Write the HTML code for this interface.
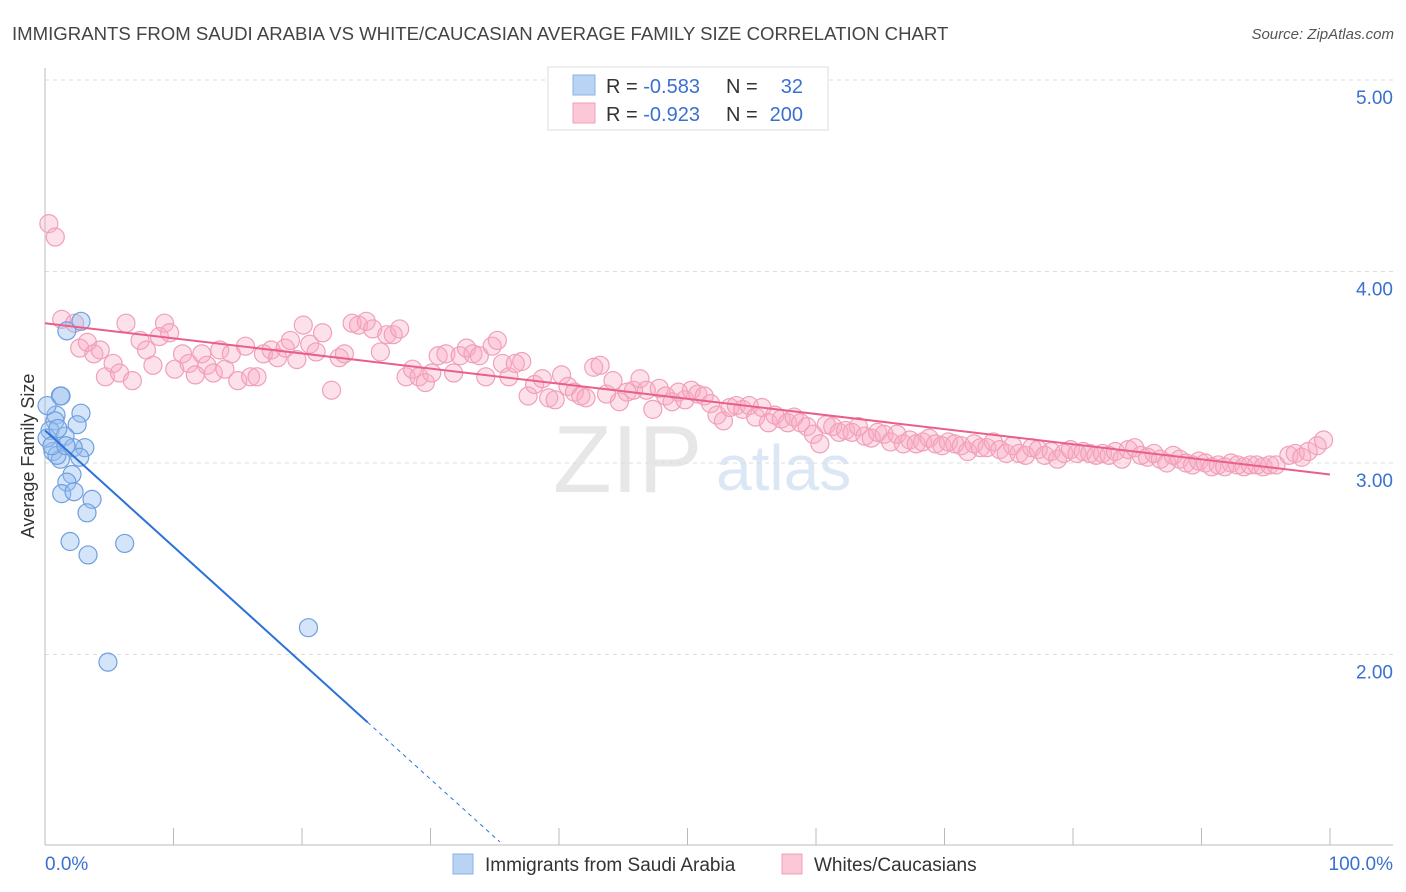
<!DOCTYPE html>
<html><head><meta charset="utf-8"><style>
body{margin:0;background:#fff;font-family:"Liberation Sans",sans-serif;overflow:hidden;}
svg{display:block;}
svg text{font-family:"Liberation Sans",sans-serif;}
</style></head><body>
<svg id="chart" width="1406" height="892" xmlns="http://www.w3.org/2000/svg">
<text x="12" y="40" font-size="18.6" fill="#444">IMMIGRANTS FROM SAUDI ARABIA VS WHITE/CAUCASIAN AVERAGE FAMILY SIZE CORRELATION CHART</text>
<text x="1394" y="39" font-size="15" fill="#555" text-anchor="end" font-style="italic">Source: ZipAtlas.com</text>
<g opacity="0.35">
<text x="553" y="492" font-size="96" fill="#bbb" font-family="Liberation Serif,serif">ZIP</text>
<text x="716" y="490" font-size="64" fill="#9dbbe6">atlas</text>
</g>
<g id="grid"></g>
<g id="axes"></g>
<g id="pts"></g>
<g id="trends"></g>
<g>
<rect x="548" y="67" width="280" height="63" fill="#fff" stroke="#ddd"/>
<rect x="573" y="75" width="22" height="20" fill="#b9d3f5" stroke="#8ab0e6"/>
<rect x="573" y="103" width="22" height="20" fill="#fcc8d8" stroke="#f0a0b8"/>
<text x="606" y="93" font-size="20" fill="#333">R = <tspan fill="#3a70d0">-0.583</tspan></text>
<text x="726" y="93" font-size="20" fill="#333">N =</text><text x="803" y="93" font-size="20" fill="#3a70d0" text-anchor="end">32</text>
<text x="606" y="121" font-size="20" fill="#333">R = <tspan fill="#3a70d0">-0.923</tspan></text>
<text x="726" y="121" font-size="20" fill="#333">N =</text><text x="803" y="121" font-size="20" fill="#3a70d0" text-anchor="end">200</text>
</g>
<g>
<rect x="453" y="854" width="20" height="20" fill="#b9d3f5" stroke="#8ab0e6"/>
<text x="485" y="871" font-size="19" fill="#333">Immigrants from Saudi Arabia</text>
<rect x="782" y="854" width="20" height="20" fill="#fcc8d8" stroke="#f0a0b8"/>
<text x="814" y="871" font-size="19" fill="#333">Whites/Caucasians</text>
</g>
<text transform="translate(34,456) rotate(-90)" font-size="18" fill="#333" text-anchor="middle">Average Family Size</text>
</svg>
<script>
const yTicks=[2,3,4,5];
const yTickLabels=["2.00","3.00","4.00","5.00"];
const xTickLabels=["0.0%","100.0%"];
const blueX=[1.7,2.8,1.2,1.25,0.86,2.8,0.16,0.78,2.5,0.39,1.56,3.1,2.2,0.62,1.2,2.7,0.93,2.1,1.7,1.3,2.26,3.66,3.27,1.95,6.2,3.35,20.5,4.9,0.16,0.54,1.0,1.63];
const blueY=[3.69,3.74,3.35,3.35,3.25,3.26,3.30,3.22,3.20,3.17,3.14,3.08,3.08,3.06,3.02,3.03,3.04,2.94,2.90,2.84,2.85,2.81,2.74,2.59,2.58,2.52,2.14,1.96,3.13,3.09,3.18,3.09];
const pinkX=[0.3,0.8,1.3,2.3,2.7,3.3,3.8,4.3,4.7,5.3,5.8,6.3,6.8,7.4,7.9,8.4,8.9,9.3,9.7,10.1,10.7,11.2,11.7,12.2,12.6,13.1,13.6,14.0,14.5,15.0,15.6,16.0,16.5,17.0,17.6,18.1,18.7,19.1,19.6,20.1,20.6,21.1,21.6,22.3,22.9,23.3,23.9,24.4,25.0,25.5,26.1,26.6,27.1,27.6,28.1,28.6,29.1,29.6,30.1,30.6,31.2,31.8,32.3,32.8,33.3,33.8,34.3,34.8,35.2,35.6,36.1,36.6,37.1,37.6,38.1,38.7,39.2,39.7,40.2,40.7,41.2,41.7,42.1,42.7,43.2,43.7,44.2,44.7,45.3,45.8,46.3,46.8,47.3,47.8,48.3,48.8,49.3,49.8,50.3,50.8,51.3,51.8,52.3,52.8,53.3,53.8,54.3,54.8,55.3,55.8,56.3,56.8,57.3,57.8,58.3,58.8,59.3,59.8,60.3,60.8,61.3,61.8,62.3,62.8,63.3,63.8,64.3,64.8,65.3,65.8,66.3,66.8,67.3,67.8,68.3,68.8,69.3,69.8,70.3,70.8,71.3,71.8,72.3,72.8,73.3,73.8,74.3,74.8,75.3,75.8,76.3,76.8,77.3,77.8,78.3,78.8,79.3,79.8,80.3,80.8,81.3,81.8,82.3,82.8,83.3,83.8,84.3,84.8,85.3,85.8,86.3,86.8,87.3,87.8,88.3,88.8,89.3,89.8,90.3,90.8,91.3,91.8,92.3,92.8,93.3,93.8,94.3,94.8,95.3,95.8,96.8,97.3,97.8,98.3,99.0,99.5];
const pinkY=[4.25,4.18,3.75,3.73,3.60,3.63,3.57,3.59,3.45,3.52,3.47,3.73,3.43,3.64,3.59,3.51,3.66,3.73,3.68,3.49,3.57,3.52,3.46,3.57,3.51,3.47,3.59,3.49,3.57,3.43,3.61,3.45,3.45,3.57,3.59,3.55,3.60,3.64,3.54,3.72,3.62,3.58,3.68,3.38,3.55,3.57,3.73,3.72,3.74,3.70,3.58,3.67,3.67,3.70,3.45,3.49,3.45,3.42,3.47,3.56,3.57,3.47,3.56,3.60,3.57,3.56,3.45,3.61,3.64,3.52,3.45,3.52,3.53,3.35,3.41,3.44,3.34,3.33,3.46,3.40,3.37,3.35,3.34,3.50,3.51,3.36,3.43,3.32,3.37,3.38,3.44,3.38,3.28,3.39,3.35,3.32,3.37,3.33,3.38,3.36,3.35,3.31,3.25,3.22,3.29,3.30,3.28,3.30,3.24,3.29,3.21,3.25,3.23,3.21,3.24,3.21,3.19,3.15,3.10,3.20,3.19,3.16,3.17,3.16,3.19,3.14,3.13,3.16,3.15,3.11,3.15,3.10,3.12,3.10,3.11,3.13,3.10,3.09,3.11,3.10,3.09,3.06,3.10,3.08,3.08,3.11,3.07,3.05,3.09,3.05,3.04,3.08,3.07,3.04,3.06,3.02,3.05,3.07,3.05,3.06,3.05,3.04,3.05,3.04,3.06,3.02,3.07,3.08,3.04,3.03,3.05,3.02,3.00,3.04,3.02,3.00,2.99,3.01,3.00,2.98,2.99,2.98,3.00,2.99,2.98,2.99,2.99,2.98,2.99,2.99,3.04,3.05,3.03,3.06,3.09,3.12];
const blueTrend=[3.17,-0.0607];   // intercept, slope per %
const pinkTrend=[3.73,-0.0079];
const NS="http://www.w3.org/2000/svg";
const X=p=>45+p*12.85;
const Y=v=>463-(v-3)*191.5;
function mk(tag,attrs,parent){const e=document.createElementNS(NS,tag);for(const k in attrs)e.setAttribute(k,attrs[k]);parent.appendChild(e);return e;}
const grid=document.getElementById('grid'),axes=document.getElementById('axes');
yTicks.forEach((t,i)=>{
 const l=mk('line',{x1:45,x2:1393,y1:Y(t),y2:Y(t),stroke:'#ddd','stroke-dasharray':'4,4'},grid);
 
 
 const tx=mk('text',{x:1393,y:Y(t)+24,'font-size':19,fill:'#3a70d0','text-anchor':'end'},axes);
 tx.textContent=yTickLabels[i];
 
 
});
mk('line',{x1:45,x2:45,y1:68,y2:845,stroke:'#bbb'},axes);
mk('line',{x1:45,x2:1393,y1:845,y2:845,stroke:'#bbb'},axes);
for(let k=1;k<=10;k++){mk('line',{x1:X(k*10),x2:X(k*10),y1:828,y2:845,stroke:'#bbb'},axes);}
let t0=mk('text',{x:45,y:870,'font-size':19,fill:'#3a70d0'},axes);t0.textContent=xTickLabels[0];


let t1=mk('text',{x:1393,y:870,'font-size':19,fill:'#3a70d0','text-anchor':'end'},axes);t1.textContent=xTickLabels[1];


const pts=document.getElementById('pts');
pinkX.forEach((x,i)=>{const c=mk('circle',{cx:X(x),cy:Y(pinkY[i]),r:9,fill:'rgba(248,170,195,0.35)',stroke:'#f0a0b8','stroke-width':1.2},pts);
 
 });
blueX.forEach((x,i)=>{const c=mk('circle',{cx:X(x),cy:Y(blueY[i]),r:9,fill:'rgba(150,190,240,0.4)',stroke:'#6f9fe0','stroke-width':1.2},pts);
 
 });
const tr=document.getElementById('trends');
const bv=x=>blueTrend[0]+blueTrend[1]*x;
let bl=mk('line',{x1:X(0),y1:Y(bv(0)),x2:X(25.1),y2:Y(bv(25.1)),stroke:'#2a72d8','stroke-width':2},tr);


let bd=mk('line',{x1:X(25.1),y1:Y(bv(25.1)),x2:X(35.4),y2:Y(bv(35.4)),stroke:'#2a72d8','stroke-width':1,'stroke-dasharray':'4,4'},tr);


const pv=x=>pinkTrend[0]+pinkTrend[1]*x;
let pl=mk('line',{x1:X(0),y1:Y(pv(0)),x2:X(100),y2:Y(pv(100)),stroke:'#e8608a','stroke-width':2},tr);


</script>
</body></html>
